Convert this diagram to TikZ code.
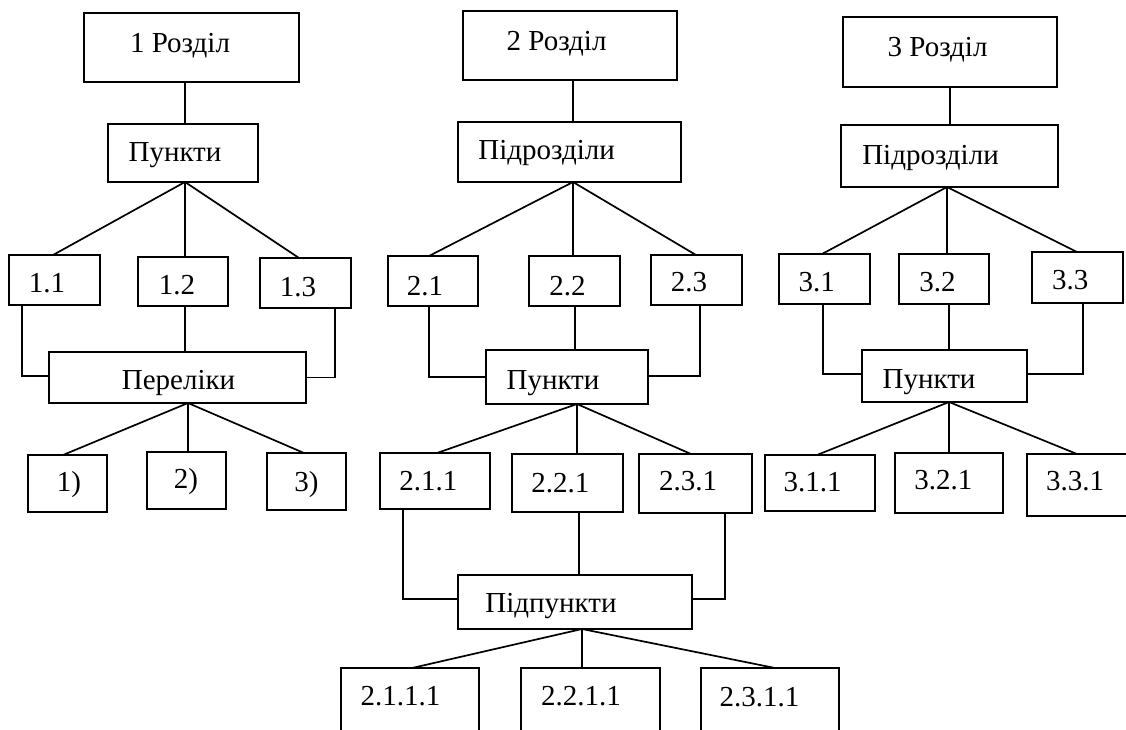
\documentclass[tikz,border=0pt]{standalone}
\usepackage{fontspec}
\setmainfont{Liberation Serif}
\newfontfamily\tnrfont{Liberation Serif}
\tikzset{
  boxst/.style={draw=black, line width=1.8pt, fill=white, inner sep=0pt, outer sep=0pt},
  lbl/.style={anchor=base, inner sep=0pt, outer sep=0pt, font=\tnrfont\fontsize{29}{34}\selectfont},
  conn/.style={draw=black, line width=1.7pt}
}
\newcommand{\bx}[8]{%
  \node[boxst, minimum width=#4-#2, minimum height=#5-#3] (#1) at ({(#2+#4)/2},{-(#3+#5)/2}) {};
  \node[lbl] (#1t) at (#7,-#8) {#6};
}
\begin{document}
\begin{tikzpicture}[x=1pt,y=1pt]
\useasboundingbox (0,0) rectangle (1126,-729);
\clip (0,0) rectangle (1126,-729);
\fill[white] (0,0) rectangle (1126,-729);

% ---------- boxes ----------
% column 1
\bx{r1}{84}{13}{299}{82}{1 Розділ}{180}{52}
\bx{p1}{108}{124}{258}{182}{Пункти}{175}{161}
\bx{b11}{9}{255}{100}{305}{1.1}{47}{292}
\bx{b12}{138}{257}{228}{306}{1.2}{177}{294}
\bx{b13}{260}{258}{351}{308}{1.3}{298}{296}
\bx{per}{49}{352}{306}{403}{Переліки}{178.5}{389}
\bx{e1}{28}{455}{107}{512}{1)}{69}{491}
\bx{e2}{147}{452}{226}{509}{2)}{186}{488}
\bx{e3}{267}{453}{346}{510}{3)}{306.5}{491}
% column 2
\bx{r2}{463}{11}{677}{80}{2 Розділ}{556.5}{50}
\bx{s2}{458}{122}{681}{182}{Підрозділи}{546.7}{159}
\bx{b21}{388}{256}{478}{306}{2.1}{425}{295}
\bx{b22}{529}{256}{620}{306}{2.2}{567.5}{295}
\bx{b23}{651}{255}{742}{305}{2.3}{689}{291.5}
\bx{p2}{486}{350}{648}{404}{Пункти}{553}{389}
\bx{c211}{380}{453}{490}{509}{2.1.1}{428.3}{490}
\bx{c221}{512}{454}{623}{512}{2.2.1}{560.3}{492.5}
\bx{c231}{639}{454}{752}{513}{2.3.1}{688}{490}
\bx{pp}{458}{575}{692}{629}{Підпункти}{551}{612.5}
\bx{d2111}{341}{668}{479}{760}{2.1.1.1}{400.5}{705.5}
\bx{d2211}{521}{668}{660}{760}{2.2.1.1}{581}{705.5}
\bx{d2311}{701}{668}{839}{760}{2.3.1.1}{759.5}{706}
% column 3
\bx{r3}{843}{17}{1057}{87}{3 Розділ}{937.5}{56.5}
\bx{s3}{841}{125}{1058}{187}{Підрозділи}{930.5}{164}
\bx{b31}{779}{254}{870}{304}{3.1}{816.7}{291.5}
\bx{b32}{899}{254}{989}{304}{3.2}{937.5}{291}
\bx{b33}{1032}{252}{1123}{303}{3.3}{1070.3}{289.3}
\bx{p3}{862}{350}{1027}{402}{Пункти}{929}{388}
\bx{c311}{765}{455}{875}{511}{3.1.1}{812.5}{491.5}
\bx{c321}{895}{453}{1003}{513}{3.2.1}{943.3}{489.3}
\bx{c331}{1027}{454}{1150}{516}{3.3.1}{1075}{490.5}

% ---------- connectors ----------
% column 1
\draw[conn] (r1.south -| 185,0) -- (p1.north -| 185,0);
\draw[conn] (p1.south -| 185,0) -- (b11.north -| 53,0);
\draw[conn] (p1.south -| 185,0) -- (b12.north -| 185,0);
\draw[conn] (p1.south -| 185,0) -- (b13.north -| 299,0);
\draw[conn] (b11.south -| 22,0) |- (per.west |- 0,-376);
\draw[conn] (b12.south -| 185,0) -- (per.north -| 185,0);
\draw[conn] (b13.south -| 335,0) |- (per.east |- 0,-377.5);
\draw[conn] (per.south -| 188,0) -- (e1.north -| 63,0);
\draw[conn] (per.south -| 188,0) -- (e2.north -| 188,0);
\draw[conn] (per.south -| 188,0) -- (e3.north -| 304,0);
% column 2
\draw[conn] (r2.south -| 573,0) -- (s2.north -| 573,0);
\draw[conn] (s2.south -| 573,0) -- (b21.north -| 429,0);
\draw[conn] (s2.south -| 573,0) -- (b22.north -| 573,0);
\draw[conn] (s2.south -| 573,0) -- (b23.north -| 696,0);
\draw[conn] (b21.south -| 429,0) |- (p2.west |- 0,-377);
\draw[conn] (b22.south -| 575,0) -- (p2.north -| 575,0);
\draw[conn] (b23.south -| 700,0) |- (p2.east |- 0,-376);
\draw[conn] (p2.south -| 577,0) -- (c211.north -| 437,0);
\draw[conn] (p2.south -| 577,0) -- (c221.north -| 577,0);
\draw[conn] (p2.south -| 577,0) -- (c231.north -| 691,0);
\draw[conn] (c211.south -| 403,0) |- (pp.west |- 0,-599);
\draw[conn] (c221.south -| 579,0) -- (pp.north -| 579,0);
\draw[conn] (c231.south -| 725,0) |- (pp.east |- 0,-599);
\draw[conn] (pp.south -| 582,0) -- (d2111.north -| 412,0);
\draw[conn] (pp.south -| 582,0) -- (d2211.north -| 582,0);
\draw[conn] (pp.south -| 582,0) -- (d2311.north -| 775,0);
% column 3
\draw[conn] (r3.south -| 950,0) -- (s3.north -| 950,0);
\draw[conn] (s3.south -| 947,0) -- (b31.north -| 822,0);
\draw[conn] (s3.south -| 947,0) -- (b32.north -| 947,0);
\draw[conn] (s3.south -| 947,0) -- (b33.north -| 1077,0);
\draw[conn] (b31.south -| 823,0) |- (p3.west |- 0,-374);
\draw[conn] (b32.south -| 949,0) -- (p3.north -| 949,0);
\draw[conn] (b33.south -| 1083,0) |- (p3.east |- 0,-374);
\draw[conn] (p3.south -| 949,0) -- (c311.north -| 817,0);
\draw[conn] (p3.south -| 949,0) -- (c321.north -| 949,0);
\draw[conn] (p3.south -| 949,0) -- (c331.north -| 1077,0);
\end{tikzpicture}
\end{document}
